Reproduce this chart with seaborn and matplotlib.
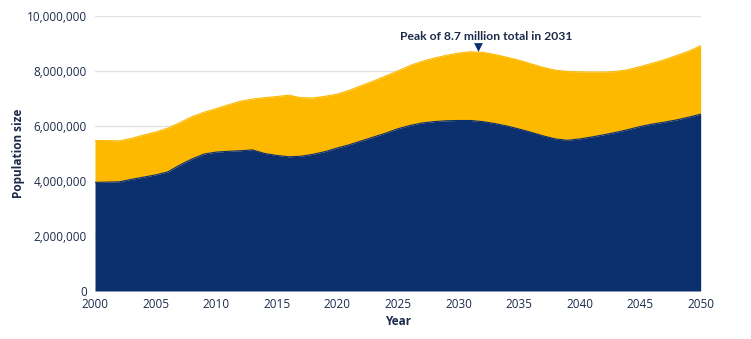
import matplotlib
matplotlib.use("Agg")
import matplotlib.pyplot as plt
import seaborn as sns
import pandas as pd
import numpy as np
from matplotlib.ticker import FuncFormatter

years = list(range(2000, 2051))
lower_series = [3.95, 3.96, 3.97, 4.06, 4.14, 4.22, 4.33, 4.58, 4.80, 4.98,
                5.05, 5.08, 5.10, 5.13, 5.00, 4.93, 4.88, 4.90, 4.97, 5.07,
                5.20, 5.32, 5.46, 5.60, 5.74, 5.90, 6.02, 6.11, 6.16, 6.19,
                6.20, 6.20, 6.16, 6.09, 6.00, 5.89, 5.77, 5.64, 5.53, 5.48,
                5.53, 5.60, 5.68, 5.77, 5.87, 5.98, 6.07, 6.14, 6.22, 6.32,
                6.43]
total_series = [5.47, 5.47, 5.46, 5.55, 5.67, 5.78, 5.92, 6.12, 6.34, 6.50,
                6.63, 6.77, 6.90, 6.98, 7.03, 7.07, 7.12, 7.03, 7.02, 7.08,
                7.16, 7.30, 7.47, 7.64, 7.82, 8.00, 8.20, 8.35, 8.47, 8.57,
                8.65, 8.70, 8.68, 8.60, 8.50, 8.39, 8.26, 8.13, 8.03, 7.98,
                7.97, 7.96, 7.96, 7.98, 8.05, 8.16, 8.28, 8.41, 8.56, 8.72,
                8.92]
y_ticks = [0, 2_000_000, 4_000_000, 6_000_000, 8_000_000, 10_000_000]
x_ticks = list(range(2000, 2051, 5))
annotation_text = "Peak of 8.7 million total in 2031"

df = pd.DataFrame({"Year": years,
                   "lower": np.array(lower_series) * 1e6,
                   "total": np.array(total_series) * 1e6})

NAVY = "#0c2f6e"
YELLOW = "#fdb900"
TEXT = "#1c2b4a"

sns.set_theme(style="white")
plt.rcParams["font.family"] = ["Open Sans", "DejaVu Sans"]

fig = plt.figure(figsize=(7.51, 3.39), dpi=100)
ax = fig.add_axes([0.1265, 0.1416, 0.8065, 0.8112])

ax.fill_between(df["Year"], df["lower"], df["total"], color=YELLOW, linewidth=0, zorder=2)
ax.fill_between(df["Year"], 0, df["lower"], color=NAVY, linewidth=0, zorder=3)
sns.lineplot(data=df, x="Year", y="total", color=YELLOW, linewidth=0.8, ax=ax, zorder=2)
sns.lineplot(data=df, x="Year", y="lower", color=NAVY, linewidth=0.8, ax=ax, zorder=3)

ax.set_xlim(2000, 2050)
ax.set_ylim(0, 10_000_000)
ax.set_xticks(x_ticks)
ax.set_yticks(y_ticks)
ax.yaxis.set_major_formatter(FuncFormatter(lambda v, p: f"{int(v):,}"))
ax.grid(axis="y", color="#e3e3e3", linewidth=1.0, zorder=0)
ax.set_axisbelow(True)
for s in ax.spines.values():
    s.set_visible(False)
ax.tick_params(axis="both", length=0, labelsize=8.5, labelcolor=TEXT, pad=6)
ax.tick_params(axis="x", pad=5)

ax.set_xlabel("Year", fontsize=8.5, fontweight="bold", color=TEXT, labelpad=3)
ax.set_ylabel("Population size", fontsize=8.5, fontweight="bold", color=TEXT, labelpad=1)

ax.scatter([2031.6], [8.87e6], marker="v", s=40, color=NAVY, zorder=5, linewidths=0)
ax.text(2032.3, 9.25e6, annotation_text, ha="center", va="center",
        fontsize=8.7, fontweight="bold", color=TEXT, zorder=6,
        family=["Lato", "DejaVu Sans"])

fig.savefig("out.png", dpi=100)
